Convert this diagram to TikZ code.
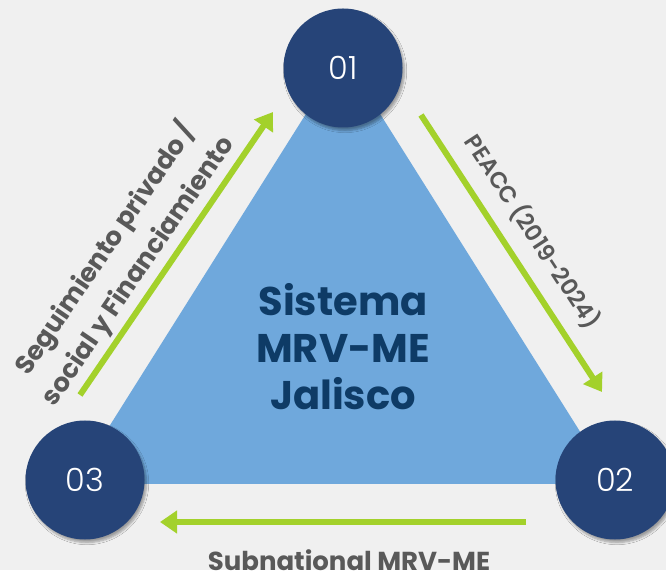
\documentclass[tikz,border=0pt]{standalone}
\usepackage{fontspec}
\setmainfont{Poppins}
\newfontfamily\lightfont{Poppins Light}
\newfontfamily\semifont{Poppins SemiBold}
\usetikzlibrary{arrows.meta, shadows.blur}
\definecolor{bgray}{HTML}{F0F0F0}
\definecolor{tri}{HTML}{6FA8DC}
\definecolor{navy}{HTML}{264478}
\definecolor{deepblue}{HTML}{0E3B66}
\definecolor{lime}{HTML}{A3D12B}
\definecolor{txt}{HTML}{595959}

\begin{document}
\begin{tikzpicture}[x=1pt, y=1pt, >={Triangle[width=22pt, length=17pt]},
    phase/.style={circle, fill=navy, minimum size=119pt, inner sep=0pt, text=white,
        font=\lightfont\fontsize{32}{32}\selectfont,
        blur shadow={shadow xshift=2pt, shadow yshift=-3pt, shadow blur steps=6, shadow opacity=35}},
    flow/.style={->, lime, line width=6pt},
    tag/.style={text=txt, inner sep=0pt, align=center, font=\bfseries\fontsize{26}{39}\selectfont}]
    % Background
    \fill[bgray] (0,0) rectangle (666,570);
    \useasboundingbox (0,0) rectangle (666,570);
    \fill[tri] (343,515) -- (613,86) -- (73,86) -- cycle;

    % Nodes
    \node[phase] (p1) at (343,502) {01};
    \node[phase] (p2) at (615,90) {02};
    \node[phase] (p3) at (85,90) {03};
    \node[text=deepblue, align=center, font=\bfseries\fontsize{40}{47}\selectfont] (core) at (343,223) {Sistema\\MRV-ME\\Jalisco};

    % Arrows
    \coordinate (l0) at (80,175);
    \coordinate (l1) at (273,458);
    \coordinate (r0) at (421,455);
    \coordinate (r1) at (602,178);
    \coordinate (b0) at (526,48);
    \coordinate (b1) at (160,48);
    \draw[flow] (l0) -- node[tag, sloped, above=4pt, pos=0.395] (lt) {Seguimiento privado /\\social y Financiamiento} (l1);
    \draw[flow] (r0) -- node[tag, sloped, above=14pt, pos=0.48, font=\semifont\fontsize{23}{27}\selectfont] (rt) {PEACC (2019-2024)} (r1);
    \draw[flow] (b0) -- node[tag, below=25pt, xshift=6pt] (bt) {Subnational MRV-ME} (b1);
\end{tikzpicture}
\end{document}
